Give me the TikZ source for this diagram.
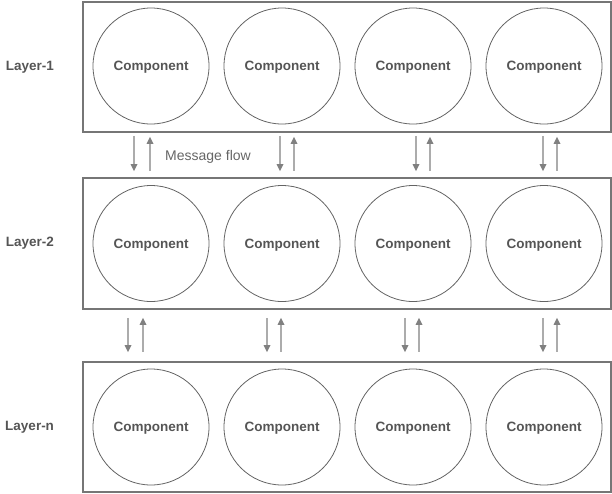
\documentclass[tikz,border=0pt]{standalone}
\usepackage{fontspec}
\setmainfont{Liberation Sans}
\usepackage{tikz}
\usetikzlibrary{
    positioning,
    arrows.meta
}
\definecolor{textGray}{RGB}{85, 85, 85}
\definecolor{boxGray}{RGB}{118, 118, 118}
\definecolor{flowGray}{RGB}{172, 172, 172}
\definecolor{headGray}{RGB}{128, 128, 128}

\begin{document}
\begin{tikzpicture}[x=1pt, y=-1pt,
    layerbox/.style={draw=boxGray, line width=1.6pt, minimum width=528pt, minimum height=130pt, inner sep=0pt},
    comp/.style={circle, draw=boxGray!85!black, line width=0.8pt, minimum size=116pt, inner sep=0pt,
        text=textGray, text depth=0pt, font=\bfseries\fontsize{13.5}{15}\selectfont},
    layerlabel/.style={text=textGray, font=\bfseries\fontsize{13.5}{16}\selectfont, inner sep=0pt},
    flow/.style={draw=flowGray, line width=1.6pt, >={Triangle[width=6.5pt, length=7pt, color=headGray]}}
]
    \useasboundingbox (0,0) rectangle (612,493);

    % the three layers
    \node[layerbox] (L1) at (347,67) {};
    \node[layerbox, minimum height=131pt] (L2) at (347,243.5) {};
    \node[layerbox] (Ln) at (347,427) {};

    \node[layerlabel, left=28pt of L1] (t1) {Layer-1};
    \node[layerlabel, left=28pt of L2] (t2) {Layer-2};
    \node[layerlabel, left=28pt of Ln] (tn) {Layer-n};

    % components
    \foreach \x [count=\i] in {151, 282, 413, 544} {
        \node[comp] (c1\i) at (\x,66) {Component};
        \node[comp] (c2\i) at (\x,243.5) {Component};
        \node[comp] (cn\i) at (\x,427) {Component};
    }

    % messages between layer 1 and layer 2
    \foreach \dx/\ux in {134/150, 280/294, 416/430, 543/557} {
        \draw[flow, ->, shorten <=3pt, shorten >=6pt] (\dx,0 |- L1.south) -- (\dx,0 |- L2.north);
        \draw[flow, <-, shorten <=4pt, shorten >=6pt] (\ux,0 |- L1.south) -- (\ux,0 |- L2.north);
    }
    \node[text=textGray!90, font=\fontsize{14}{16}\selectfont, inner sep=0pt] (msg) at (208,157) {Message flow};

    % messages between layer 2 and layer n
    \foreach \dx/\ux in {128/143, 267/281, 405/419, 543/557} {
        \draw[flow, ->, shorten <=8pt, shorten >=9pt] (\dx,0 |- L2.south) -- (\dx,0 |- Ln.north);
        \draw[flow, <-, shorten <=8pt, shorten >=9pt] (\ux,0 |- L2.south) -- (\ux,0 |- Ln.north);
    }
\end{tikzpicture}
\end{document}
